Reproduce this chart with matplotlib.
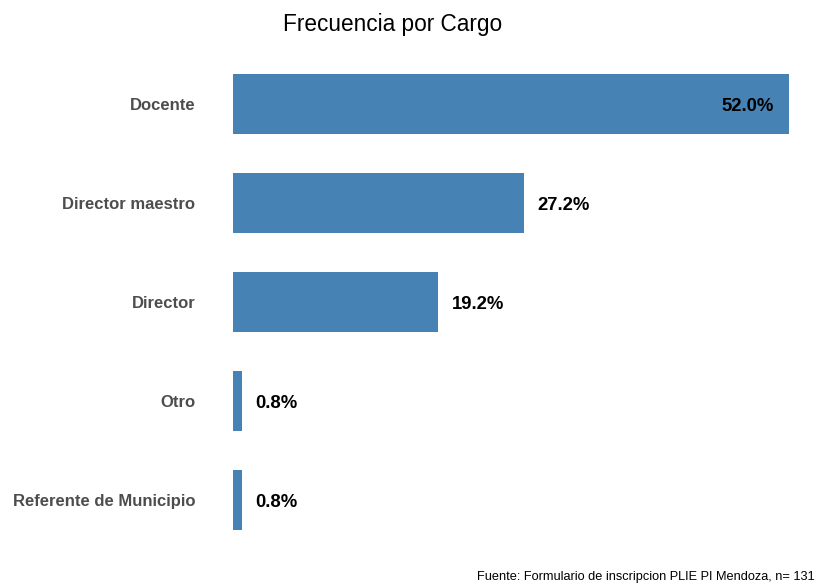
import matplotlib
matplotlib.use("Agg")
import matplotlib.pyplot as plt

plt.rcParams["font.family"] = ["Liberation Sans", "DejaVu Sans"]

cargos = ["Docente", "Director maestro", "Director", "Otro", "Referente de Municipio"]
porcentajes = [52.0, 27.2, 19.2, 0.8, 0.8]

fig = plt.figure(figsize=(8.16, 5.83), dpi=100)
ax = fig.add_axes([233 / 816, 1 - 559.4 / 583, 556 / 816, (559.4 - 44.6) / 583])

pos = list(range(len(cargos)))
ax.barh(pos, porcentajes, height=0.6, color="#4682B4")
ax.set_xlim(0, 52)
ax.set_ylim(len(cargos) - 0.4, -0.6)

# etiquetas de valor: dentro de la barra si es la mas larga
for i, v in enumerate(porcentajes):
    if v == max(porcentajes):
        ax.annotate(f"{v:.1f}%", (v, i), xytext=(-11, -2), textcoords="offset points",
                    ha="right", va="center", fontsize=13.3, fontweight="bold", color="black")
    else:
        ax.annotate(f"{v:.1f}%", (v, i), xytext=(10, -2), textcoords="offset points",
                    ha="left", va="center", fontsize=13.3, fontweight="bold", color="black")

ax.set_yticks(pos)
ax.set_yticklabels(cargos, fontsize=12, fontweight="bold", color="#4D4D4D")
ax.tick_params(axis="y", length=0, pad=27)
ax.set_xticks([])
for s in ax.spines.values():
    s.set_visible(False)

fig.text(393 / 816, 1 - 25 / 583, "Frecuencia por Cargo", ha="center", va="center", fontsize=16.3)
fig.text(815 / 816, 1 - 577 / 583, "Fuente: Formulario de inscripcion PLIE PI Mendoza, n= 131",
         ha="right", va="center", fontsize=9.2)

fig.savefig("out.png", dpi=100)
